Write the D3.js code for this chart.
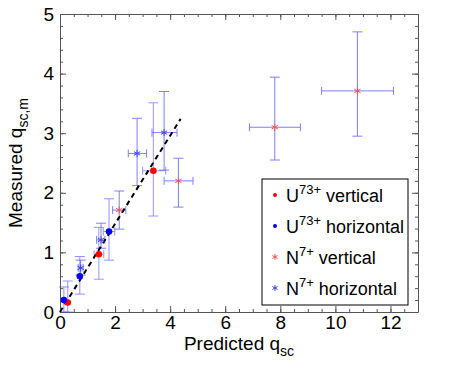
<!DOCTYPE html>
<meta charset="utf-8">
<head>
<style>
body { margin: 0; background: #fff; }
text { font-family: "Liberation Sans", Arial, sans-serif; }
</style>
</head>
<body>
<svg width="463" height="366"></svg>
<script src="https://d3js.org/d3.v7.min.js"></script>
<script>
// U73+ vertical: [x, y, xlo, xhi, ylo, yhi]
var uVert = [
  [0.28, 0.16, null, null, 0.00, 0.52],
  [1.41, 0.97, 1.24, 1.59, 0.55, 1.42],
  [3.39, 2.37, 3.00, 3.84, 1.61, 3.51]
];
var uHor = [
  [0.14, 0.20, null, null, 0.00, 0.42],
  [0.72, 0.60, null, null, 0.30, 0.93],
  [1.78, 1.35, 1.57, 1.99, 0.87, 1.90]
];
var nVert = [
  [2.15, 1.71, 1.91, 2.39, 1.39, 2.03],
  [4.30, 2.20, 3.78, 4.83, 1.76, 2.58],
  [7.80, 3.10, 6.88, 8.73, 2.55, 3.94],
  [10.80, 3.71, 9.50, 12.11, 2.95, 4.70]
];
var nHor = [
  [0.75, 0.74, 0.66, 0.84, 0.62, 0.87],
  [1.49, 1.21, 1.33, 1.63, 1.07, 1.49],
  [2.80, 2.66, 2.48, 3.14, 2.12, 3.25],
  [3.78, 3.01, 3.34, 4.25, 2.38, 3.70]
];
var fitLine = [[0, 0], [4.38, 3.24]];
var xTicks = [0, 2, 4, 6, 8, 10, 12];
var yTicks = [0, 1, 2, 3, 4, 5];
var legendItems = [
  {base: "U", sup: "73+", rest: " vertical", color: "red", kind: "dot"},
  {base: "U", sup: "73+", rest: " horizontal", color: "blue", kind: "dot"},
  {base: "N", sup: "7+", rest: " vertical", color: "#ff5050", kind: "star"},
  {base: "N", sup: "7+", rest: " horizontal", color: "#4040ff", kind: "star"}
];

var svg = d3.select("svg"),
    margin = {top: 14, right: 45, bottom: 54, left: 60},
    width = 463 - margin.left - margin.right,
    height = 366 - margin.top - margin.bottom,
    g = svg.append("g").attr("transform", "translate(" + margin.left + "," + margin.top + ")");

var x = d3.scaleLinear().domain([0, 13]).range([0, width]),
    y = d3.scaleLinear().domain([0, 5]).range([height, 0]);

var axisColor = "#555";

// minor ticks
var xMinor = d3.range(0, 13.01, 0.5), yMinor = d3.range(0, 5.01, 0.2);
function minorAxis(axis, scale, vals, size, tr) {
  var a = g.append("g").attr("transform", tr)
    .call(axis(scale).tickValues(vals).tickSize(size).tickFormat(""));
  a.select(".domain").remove();
  a.selectAll("line").attr("stroke", axisColor);
}
minorAxis(d3.axisBottom, x, xMinor, -3, "translate(0," + height + ")");
minorAxis(d3.axisTop, x, xMinor, -3, "translate(0,0)");
minorAxis(d3.axisLeft, y, yMinor, -3, "translate(0,0)");
minorAxis(d3.axisRight, y, yMinor, -3, "translate(" + width + ",0)");

function styleAxis(a) {
  a.select(".domain").attr("stroke", axisColor);
  a.selectAll("line").attr("stroke", axisColor);
  a.selectAll("text").attr("fill", "#000").style("font-size", "19px")
    .style("font-family", "'Liberation Sans', Arial, sans-serif");
}
var fmt = d3.format("d");
styleAxis(g.append("g").attr("transform", "translate(0," + height + ")")
  .call(d3.axisBottom(x).tickValues(xTicks).tickFormat(fmt).tickSizeInner(-6).tickSizeOuter(0).tickPadding(3)));
styleAxis(g.append("g")
  .call(d3.axisTop(x).tickValues(xTicks).tickSizeInner(-6).tickSizeOuter(0).tickFormat("")));
styleAxis(g.append("g")
  .call(d3.axisLeft(y).tickValues(yTicks).tickFormat(fmt).tickSizeInner(-6).tickSizeOuter(0).tickPadding(6)));
styleAxis(g.append("g").attr("transform", "translate(" + width + ",0)")
  .call(d3.axisRight(y).tickValues(yTicks).tickSizeInner(-6).tickSizeOuter(0).tickFormat("")));

// error bars
var ebColor = "#5555ff";
function errorBars(data, op) {
  var eg = g.append("g").attr("stroke", ebColor).attr("stroke-width", 1).attr("opacity", op).attr("fill", "none");
  data.forEach(function(d) {
    if (d[4] != null) {
      eg.append("line").attr("x1", x(d[0])).attr("x2", x(d[0])).attr("y1", y(d[4])).attr("y2", y(d[5]));
      [d[4], d[5]].forEach(function(v) {
        eg.append("line").attr("x1", x(d[0]) - 5).attr("x2", x(d[0]) + 5).attr("y1", y(v)).attr("y2", y(v));
      });
    }
    if (d[2] != null) {
      eg.append("line").attr("x1", x(d[2])).attr("x2", x(d[3])).attr("y1", y(d[1])).attr("y2", y(d[1]));
      [d[2], d[3]].forEach(function(v) {
        eg.append("line").attr("x1", x(v)).attr("x2", x(v)).attr("y1", y(d[1]) - 4).attr("y2", y(d[1]) + 4);
      });
    }
  });
}
errorBars(nVert, 0.75);
errorBars(nHor, 0.75);
errorBars(uVert, 0.6);
errorBars(uHor, 0.65);

// fit line
g.append("path")
  .attr("d", d3.line().x(function(d) { return x(d[0]); }).y(function(d) { return y(d[1]); })(fitLine))
  .attr("fill", "none").attr("stroke", "#000").attr("stroke-width", 2).attr("stroke-dasharray", "5,4");

// markers
var star = d3.symbol().type(d3.symbolAsterisk).size(36);
function stars(data, color) {
  g.append("g").selectAll("path").data(data).enter().append("path")
    .attr("d", star).attr("transform", function(d) { return "translate(" + x(d[0]) + "," + y(d[1]) + ")"; })
    .attr("fill", "none").attr("stroke", color).attr("stroke-width", 1);
}
function dots(data, color) {
  g.append("g").selectAll("circle").data(data).enter().append("circle")
    .attr("cx", function(d) { return x(d[0]); }).attr("cy", function(d) { return y(d[1]); })
    .attr("r", 3.3).attr("fill", color);
}
stars(nVert, "#ff5050");
stars(nHor, "#4040ff");
dots(uVert, "red");
dots(uHor, "blue");

// legend
var lg = svg.append("g").attr("transform", "translate(262,179)");
lg.append("rect").attr("width", 146).attr("height", 126).attr("fill", "#fff").attr("stroke", "#000");
legendItems.forEach(function(d, i) {
  var yy = 16 + i * 31;
  if (d.kind == "dot") {
    lg.append("circle").attr("cx", 13).attr("cy", yy).attr("r", 2).attr("fill", d.color);
  } else {
    lg.append("path").attr("d", d3.symbol().type(d3.symbolAsterisk).size(24)())
      .attr("transform", "translate(13," + yy + ")").attr("fill", "none").attr("stroke", d.color);
  }
  var t = lg.append("text").attr("x", 24).attr("y", yy + 7).style("font-size", "18px");
  t.append("tspan").text(d.base);
  t.append("tspan").attr("dy", -8).style("font-size", "13px").text(d.sup);
  t.append("tspan").attr("dy", 8).text(d.rest);
});

// axis titles
var xt = svg.append("text").attr("x", margin.left + width / 2).attr("y", 350)
  .attr("text-anchor", "middle").style("font-size", "19px");
xt.append("tspan").text("Predicted q");
xt.append("tspan").attr("dy", 6).style("font-size", "14px").text("sc");

var yt = svg.append("text").attr("transform", "translate(22," + (margin.top + height / 2) + ") rotate(-90)")
  .attr("text-anchor", "middle").style("font-size", "19px");
yt.append("tspan").text("Measured q");
yt.append("tspan").attr("dy", 6).style("font-size", "14px").text("sc,m");
</script>
</body>
